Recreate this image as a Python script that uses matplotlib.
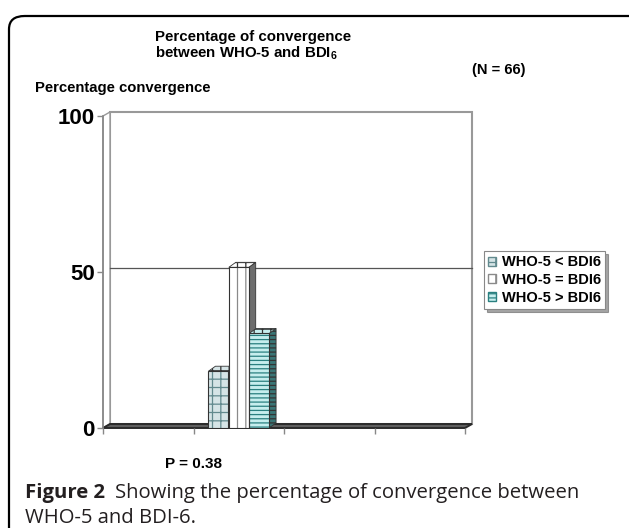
import matplotlib
matplotlib.use('Agg')
import matplotlib.pyplot as plt
import matplotlib.transforms as mtransforms
from matplotlib.patches import Polygon, Rectangle, Patch, FancyBboxPatch

# data (66 patients)
series = ['WHO-5 < BDI6', 'WHO-5 = BDI6', 'WHO-5 > BDI6']
values = [18.2, 51.5, 30.3]
n_slots = 4
group_slot = 1
yticks = [0, 50, 100]

faces = ['#d5e4e6', '#ffffff', '#c6eeee']
hatch_cols = ['#628a8e', '#8a8a8a', '#2a8080']
hatches = ['++', '||', '----']
sides = ['#8aa6aa', '#6d6d6d', '#3a7676']

chart_font = ['Liberation Sans Narrow', 'Liberation Sans', 'DejaVu Sans']
plt.rcParams['font.family'] = chart_font
plt.rcParams['font.weight'] = 'bold'
plt.rcParams['mathtext.fontset'] = 'custom'
plt.rcParams['mathtext.rm'] = 'Liberation Sans:bold'
plt.rcParams['mathtext.it'] = 'Liberation Sans:bold'
plt.rcParams['mathtext.bf'] = 'Liberation Sans:bold'
plt.rcParams['hatch.linewidth'] = 0.9

W, H = 629, 528
fig = plt.figure(figsize=(W / 100, H / 100), dpi=100)


def fx(px):
    return px / W


def fy(py):
    return 1 - py / H


# front plane of the 3d-looking chart
ax = fig.add_axes([fx(103), fy(428), (465 - 103) / W, (428 - 116) / H])
ax.set_xlim(0, n_slots)
ax.set_ylim(0, 100)
ax.patch.set_visible(False)
for s in ['top', 'right', 'bottom']:
    ax.spines[s].set_visible(False)
ax.spines['left'].set_color('#888888')
ax.spines['left'].set_linewidth(1.2)
ax.set_yticks(yticks)
ax.set_yticklabels([str(v) for v in yticks], fontsize=16, fontweight='bold')
ax.set_xticks(range(n_slots + 1))
ax.set_xticklabels([])
ax.tick_params(axis='both', direction='out', length=4, color='#888888', width=1,
               pad=2)

# wall depth in pixels
wdx, wdy = 7, 4
px_x = n_slots / 362
px_y = 100 / 312
back = mtransforms.offset_copy(ax.transAxes, fig=fig, x=wdx, y=wdy, units='dots')

ax.add_patch(Rectangle((0, 0), 1, 1, transform=back, facecolor='white',
                       edgecolor='#999999', lw=1.5, zorder=0, clip_on=False))
# left wall
ax.add_patch(Polygon([(0, 0), (0, 100), (wdx * px_x, 100 + wdy * px_y),
                      (wdx * px_x, wdy * px_y)],
                     closed=True, facecolor='white', edgecolor='#999999', lw=1.0,
                     zorder=0.5, clip_on=False))
ax.plot([0, 1], [0.5, 0.5], transform=back, color='#555555', lw=0.9, zorder=0.6,
        clip_on=False)
# floor slab
ax.add_patch(Polygon([(0, 0), (n_slots, 0), (n_slots + wdx * px_x, wdy * px_y),
                      (wdx * px_x, wdy * px_y)],
                     closed=True, facecolor='#5e5e5e', edgecolor='#2a2a2a', lw=1.4,
                     zorder=1, clip_on=False))

# bars
bw = 0.22
bdx = 7 * px_x
bdy = 5 * px_y
for i, (name, v) in enumerate(zip(series, values)):
    x = group_slot + 0.5 + (i - 1) * 0.225
    x0, x1 = x - bw / 2, x + bw / 2
    ax.add_patch(Polygon([(x1, 0), (x1 + bdx, bdy), (x1 + bdx, v + bdy), (x1, v)],
                         closed=True, facecolor=sides[i], edgecolor='#333333',
                         hatch=hatches[i] if i != 1 else None, lw=0.6, zorder=2))
    ax.add_patch(Polygon([(x0, v), (x0 + bdx, v + bdy), (x1 + bdx, v + bdy), (x1, v)],
                         closed=True, facecolor=faces[i], edgecolor='#333333', lw=0.6,
                         hatch='++', zorder=2))
    ax.bar(x, v, bw, color=faces[i], hatch=hatches[i], edgecolor=hatch_cols[i],
           lw=0, zorder=3)
    ax.bar(x, v, bw, fill=False, edgecolor='#333333', lw=0.8, zorder=4)

handles = [Patch(facecolor=faces[i], edgecolor=hatch_cols[i], hatch=hatches[i])
           for i in range(3)]
leg = ax.legend(handles, series, loc='upper left', bbox_to_anchor=(fx(484), fy(251)),
                bbox_transform=fig.transFigure, fontsize=10.5, frameon=True,
                fancybox=False, shadow=True, handlelength=0.55, handleheight=0.55,
                handletextpad=0.35, borderpad=0.3, labelspacing=0.25,
                borderaxespad=0)
leg.get_frame().set_edgecolor('#888888')
leg.get_frame().set_linewidth(0.8)
for t in leg.get_texts():
    t.set_fontweight('bold')

fig.text(fx(155), fy(37), 'Percentage of convergence', fontsize=10.8,
         fontweight='bold', va='center', ha='left')
fig.text(fx(155), fy(53), r'between WHO-5 and BDI$_{\mathbf{6}}$', fontsize=10.8,
         fontweight='bold', va='center', ha='left')
fig.text(fx(472), fy(70), '(N = 66)', fontsize=10.6, fontweight='bold', va='center')
fig.text(fx(35), fy(88), 'Percentage convergence', fontsize=10.7, fontweight='bold',
         va='center')
ax.text(1.0, -11.5, 'P = 0.38', fontsize=11, fontweight='bold', ha='center',
        va='center')

# caption and frame
cap_font = ['Open Sans', 'DejaVu Sans']
t1 = fig.text(fx(25), fy(493), 'Figure 2', fontsize=14.6, fontweight='bold',
              family=cap_font, color='#231f20', va='center')
ax.annotate('Showing the percentage of convergence between', xy=(1, 0.5),
            xycoords=t1, xytext=(7, 0), textcoords='offset points', va='center',
            fontsize=14.6, fontweight='normal', family=cap_font, color='#231f20',
            annotation_clip=False)
fig.text(fx(25), fy(518), 'WHO-5 and BDI-6.', fontsize=14.6, fontweight='normal',
         family=cap_font, color='#231f20', va='center')

fig.patches.append(FancyBboxPatch((fx(9), fy(560)), fx(660 - 9), (560 - 16) / H,
                                  boxstyle='round,pad=0,rounding_size=0.025',
                                  transform=fig.transFigure, fill=False,
                                  edgecolor='black', lw=1.6, figure=fig))

fig.savefig('out.png', dpi=100)
